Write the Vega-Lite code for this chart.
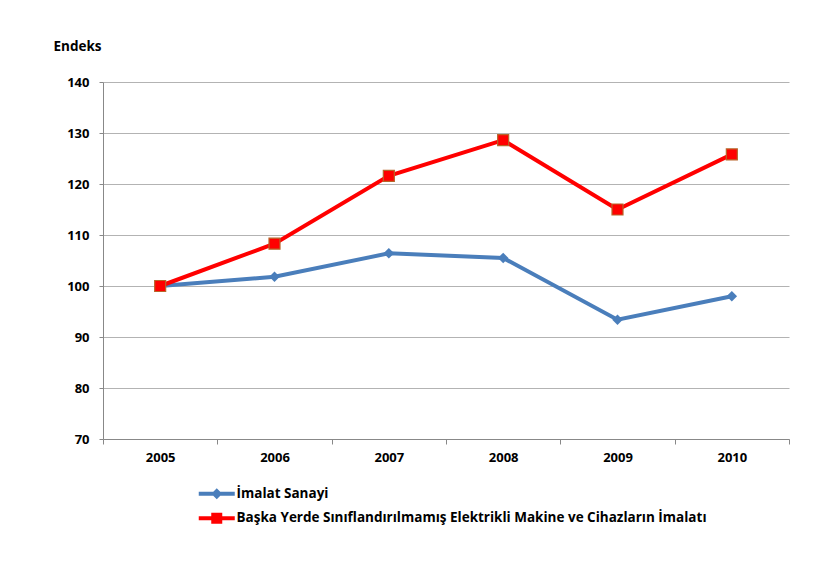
{
  "$schema": "https://vega.github.io/schema/vega-lite/v6.json",
  "width": 686,
  "height": 357,
  "autosize": {"type": "none"},
  "padding": {"left": 103, "top": 82, "right": 34, "bottom": 127},
  "background": "white",
  "config": {"view": {"stroke": null}, "font": "Open Sans"},
  "data": {
    "values": [
      {"year": "2005", "series": "İmalat Sanayi", "value": 100},
      {"year": "2006", "series": "İmalat Sanayi", "value": 101.8},
      {"year": "2007", "series": "İmalat Sanayi", "value": 106.4},
      {"year": "2008", "series": "İmalat Sanayi", "value": 105.5},
      {"year": "2009", "series": "İmalat Sanayi", "value": 93.4},
      {"year": "2010", "series": "İmalat Sanayi", "value": 98},
      {"year": "2005", "series": "Başka Yerde Sınıflandırılmamış Elektrikli Makine ve Cihazların İmalatı", "value": 100},
      {"year": "2006", "series": "Başka Yerde Sınıflandırılmamış Elektrikli Makine ve Cihazların İmalatı", "value": 108.3},
      {"year": "2007", "series": "Başka Yerde Sınıflandırılmamış Elektrikli Makine ve Cihazların İmalatı", "value": 121.6},
      {"year": "2008", "series": "Başka Yerde Sınıflandırılmamış Elektrikli Makine ve Cihazların İmalatı", "value": 128.6},
      {"year": "2009", "series": "Başka Yerde Sınıflandırılmamış Elektrikli Makine ve Cihazların İmalatı", "value": 115},
      {"year": "2010", "series": "Başka Yerde Sınıflandırılmamış Elektrikli Makine ve Cihazların İmalatı", "value": 125.8}
    ]
  },
  "encoding": {
    "x": {
      "field": "year",
      "type": "ordinal",
      "bandPosition": 0.5,
      "scale": {"type": "band", "paddingInner": 0, "paddingOuter": 0},
      "axis": {
        "title": null,
        "labelAngle": 0,
        "labelFont": "Open Sans",
        "labelFontWeight": "bold",
        "labelFontSize": 13,
        "labelColor": "#000000",
        "labelPadding": 7,
        "tickBand": "extent",
        "tickSize": 5,
        "tickColor": "#888888",
        "domainColor": "#888888",
        "grid": false
      }
    },
    "y": {
      "field": "value",
      "type": "quantitative",
      "scale": {"domain": [70, 140], "nice": false, "zero": false},
      "axis": {
        "values": [70, 80, 90, 100, 110, 120, 130, 140],
        "title": "Endeks",
        "titleAngle": 0,
        "titleAlign": "center",
        "titleBaseline": "middle",
        "titleX": -26,
        "titleY": -36,
        "titleFont": "Open Sans",
        "titleFontWeight": "bold",
        "titleFontSize": 13.5,
        "titleColor": "#000000",
        "labelFont": "Open Sans",
        "labelFontWeight": "bold",
        "labelFontSize": 13,
        "labelColor": "#000000",
        "labelPadding": 10,
        "tickSize": 4,
        "tickColor": "#888888",
        "domainColor": "#888888",
        "gridColor": "#b3b3b3",
        "gridWidth": 1.2
      }
    }
  },
  "layer": [
    {
      "transform": [{"filter": "datum.series == 'İmalat Sanayi'"}],
      "mark": {"type": "line", "strokeWidth": 4, "color": "#4a7ebb"}
    },
    {
      "transform": [{"filter": "datum.series != 'İmalat Sanayi'"}],
      "mark": {"type": "line", "strokeWidth": 4, "color": "#ff0000"}
    },
    {
      "transform": [{"filter": "datum.series == 'İmalat Sanayi'"}],
      "mark": {"type": "point", "shape": "diamond", "filled": true, "size": 110, "color": "#4a7ebb", "opacity": 1}
    },
    {
      "transform": [{"filter": "datum.series != 'İmalat Sanayi'"}],
      "mark": {"type": "point", "shape": "square", "filled": true, "size": 121, "fill": "#ff0000", "stroke": "#b8652a", "strokeWidth": 1.2, "opacity": 1}
    },
    {
      "mark": {"type": "point", "filled": true, "size": 100, "opacity": 0},
      "encoding": {
        "color": {
          "field": "series",
          "type": "nominal",
          "scale": {
            "domain": ["İmalat Sanayi", "Başka Yerde Sınıflandırılmamış Elektrikli Makine ve Cihazların İmalatı"],
            "range": ["#4a7ebb", "#ff0000"]
          },
          "legend": {
            "orient": "none",
            "legendX": 94,
            "legendY": 405,
            "title": null,
            "symbolOpacity": 1,
            "symbolStrokeWidth": 0,
            "symbolOffset": 13,
            "labelOffset": 13,
            "labelLimit": 0,
            "labelFont": "Open Sans",
            "labelFontWeight": "bold",
            "labelFontSize": 13.5,
            "labelColor": "#000000",
            "rowPadding": 9.5
          }
        },
        "shape": {
          "field": "series",
          "type": "nominal",
          "scale": {
            "domain": ["İmalat Sanayi", "Başka Yerde Sınıflandırılmamış Elektrikli Makine ve Cihazların İmalatı"],
            "range": [
              "M-3.6,-0.4L3.6,-0.4L3.6,0.4L-3.6,0.4Z M0,-1.1L1.1,0L0,1.1L-1.1,0Z",
              "M-3.6,-0.4L3.6,-0.4L3.6,0.4L-3.6,0.4Z M-1.1,-1.1L1.1,-1.1L1.1,1.1L-1.1,1.1Z"
            ]
          },
          "legend": {
            "orient": "none",
            "legendX": 94,
            "legendY": 405,
            "title": null,
            "symbolOpacity": 1,
            "symbolStrokeWidth": 0,
            "symbolOffset": 13,
            "labelOffset": 13,
            "labelLimit": 0,
            "labelFont": "Open Sans",
            "labelFontWeight": "bold",
            "labelFontSize": 13.5,
            "labelColor": "#000000",
            "rowPadding": 9.5
          }
        }
      }
    }
  ]
}
